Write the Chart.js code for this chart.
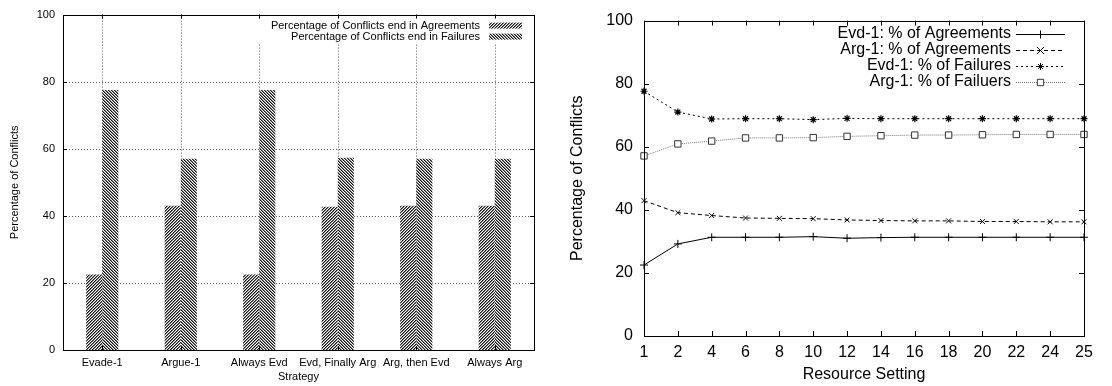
<!DOCTYPE html>
<html>
<head>
<meta charset="utf-8">
<script src="https://cdn.jsdelivr.net/npm/chart.js@4.4.1/dist/chart.umd.min.js"></script>
<style>
  html, body { margin: 0; padding: 0; background: #fff; }
  #wrap { position: relative; width: 1112px; height: 386px; overflow: hidden; }
  #left { position: absolute; left: 0; top: 0; }
  #right { position: absolute; left: 560px; top: 0; }
</style>
</head>
<body>
<div id="wrap">
  <canvas id="left" width="560" height="386"></canvas>
  <canvas id="right" width="552" height="386"></canvas>
</div>
<script>
// ---- data: outcome per strategy ----
const strategies = ['Evade-1', 'Argue-1', 'Always Evd', 'Evd, Finally Arg', 'Arg, then Evd', 'Always Arg'];
const agreementPct = [22.5, 43.0, 22.5, 42.7, 43.0, 43.0];
const failurePct   = [77.5, 57.0, 77.5, 57.3, 57.0, 57.0];

// ---- data: outcome per resource setting ----
const resourceSettings = ['1', '2', '4', '6', '8', '10', '12', '14', '16', '18', '20', '22', '24', '25'];
const evdAgreements = [22.5, 29.2, 31.3, 31.3, 31.3, 31.5, 31.0, 31.2, 31.3, 31.3, 31.3, 31.3, 31.3, 31.3];
const argAgreements = [42.9, 39.1, 38.2, 37.4, 37.3, 37.2, 36.8, 36.6, 36.5, 36.5, 36.3, 36.3, 36.2, 36.2];
const evdFailures   = [77.6, 71.0, 68.8, 68.9, 68.9, 68.6, 69.0, 68.9, 68.9, 68.9, 68.9, 68.9, 68.9, 68.9];
const argFailures   = [57.1, 60.9, 61.8, 62.8, 62.8, 62.9, 63.3, 63.5, 63.7, 63.7, 63.8, 63.9, 63.9, 63.9];

const percentTicks = [0, 20, 40, 60, 80, 100];

const FONT = '"Liberation Sans", Arial, Helvetica, sans-serif';
Chart.defaults.font.family = FONT;
Chart.defaults.color = '#000';

// diagonal hatch fill, dir = 1 for "/" and -1 for "\"
function hatch(dir) {
  const n = 3;
  const c = document.createElement('canvas');
  c.width = n; c.height = n;
  const g = c.getContext('2d');
  const img = g.createImageData(n, n);
  for (let yy = 0; yy < n; yy++) {
    for (let xx = 0; xx < n; xx++) {
      const k = dir > 0 ? (xx + yy) % n : ((xx - yy) % n + n) % n;
      const v = k === 0 ? 20 : (k === 1 ? 130 : 255);
      const i = (yy * n + xx) * 4;
      img.data[i] = img.data[i + 1] = img.data[i + 2] = v;
      img.data[i + 3] = 255;
    }
  }
  g.putImageData(img, 0, 0);
  return g.createPattern(c, 'repeat');
}
const hatchAgree = hatch(1);
const hatchFail = hatch(-1);

// simple marker drawing for key samples
function marker(ctx, style, r, x, y, fill) {
  ctx.beginPath();
  if (style === 'cross') {
    ctx.moveTo(x - r, y); ctx.lineTo(x + r, y);
    ctx.moveTo(x, y - r); ctx.lineTo(x, y + r);
  } else if (style === 'crossRot') {
    ctx.moveTo(x - r, y - r); ctx.lineTo(x + r, y + r);
    ctx.moveTo(x - r, y + r); ctx.lineTo(x + r, y - r);
  } else if (style === 'star') {
    ctx.moveTo(x - r, y); ctx.lineTo(x + r, y);
    ctx.moveTo(x, y - r); ctx.lineTo(x, y + r);
    const d = r * 0.7071;
    ctx.moveTo(x - d, y - d); ctx.lineTo(x + d, y + d);
    ctx.moveTo(x - d, y + d); ctx.lineTo(x + d, y - d);
  } else if (style === 'rect') {
    const d = r * 0.7071;
    ctx.rect(x - d, y - d, 2 * d, 2 * d);
    ctx.fillStyle = fill || '#fff';
    ctx.fill();
  }
  ctx.stroke();
}

// dotted grid, frame, inward tick marks on all four sides, and the in-plot key
const framePlugin = {
  id: 'framePlugin',
  beforeDatasetsDraw(chart, args, opts) {
    if (!opts.grid) return;
    const { ctx, chartArea: a, scales: { x, y } } = chart;
    ctx.save();
    ctx.strokeStyle = '#555';
    ctx.lineWidth = 1;
    ctx.setLineDash([1, 2]);
    ctx.beginPath();
    x.ticks.forEach((t, i) => {
      const px = Math.round(x.getPixelForTick(i)) + 0.5;
      ctx.moveTo(px, a.top); ctx.lineTo(px, a.bottom);
    });
    y.ticks.forEach((t, i) => {
      if (t.value === y.min || t.value === y.max) return;
      const py = Math.round(y.getPixelForTick(i)) + 0.5;
      ctx.moveTo(a.left, py); ctx.lineTo(a.right, py);
    });
    ctx.stroke();
    ctx.restore();
  },
  afterDatasetsDraw(chart, args, opts) {
    const { ctx, chartArea: a } = chart;
    if (opts.mask) {
      ctx.save();
      ctx.fillStyle = '#fff';
      ctx.fillRect(a.left + opts.mask.x, a.top, a.right - a.left - opts.mask.x, opts.mask.h);
      ctx.restore();
    }
  },
  afterDraw(chart, args, opts) {
    const { ctx, chartArea: a, scales: { x, y } } = chart;
    const len = opts.tickLen || 5;
    ctx.save();
    ctx.strokeStyle = '#000';
    ctx.lineWidth = 1;
    ctx.setLineDash([]);
    ctx.beginPath();
    x.ticks.forEach((t, i) => {
      const px = Math.round(x.getPixelForTick(i)) + 0.5;
      ctx.moveTo(px, a.bottom); ctx.lineTo(px, a.bottom - len);
      ctx.moveTo(px, a.top); ctx.lineTo(px, a.top + len);
    });
    y.ticks.forEach((t, i) => {
      const py = Math.round(y.getPixelForTick(i)) + 0.5;
      ctx.moveTo(a.left, py); ctx.lineTo(a.left + len, py);
      ctx.moveTo(a.right, py); ctx.lineTo(a.right - len, py);
    });
    ctx.stroke();
    ctx.strokeRect(Math.round(a.left) + 0.5, Math.round(a.top) + 0.5,
      Math.round(a.right - a.left), Math.round(a.bottom - a.top));

    // key
    const k = opts.key;
    if (k) {
      ctx.font = k.font + 'px ' + FONT;
      ctx.textAlign = 'right';
      ctx.textBaseline = 'middle';
      chart.data.datasets.forEach((ds, i) => {
        const yy = a.top + k.top + i * k.step;
        ctx.fillStyle = '#000';
        ctx.fillText(ds.label, a.right - k.textRight, yy);
        const x0 = a.right - k.sampleLeft, x1 = a.right - k.sampleRight;
        if (chart.config.type === 'bar') {
          ctx.fillStyle = ds.backgroundColor;
          ctx.fillRect(x0, yy - 3, x1 - x0, 6);
        } else {
          ctx.strokeStyle = ds.borderColor;
          ctx.lineWidth = 1;
          ctx.setLineDash(ds.borderDash || []);
          ctx.beginPath();
          ctx.moveTo(x0, Math.round(yy) + 0.5); ctx.lineTo(x1, Math.round(yy) + 0.5);
          ctx.stroke();
          ctx.setLineDash([]);
          ctx.strokeStyle = ds.pointBorderColor || ds.borderColor;
          marker(ctx, ds.pointStyle, ds.pointRadius, (x0 + x1) / 2, Math.round(yy) + 0.5, '#fff');
        }
      });
    }
    ctx.restore();
  }
};

// ---- left: grouped hatched bars ----
new Chart(document.getElementById('left'), {
  type: 'bar',
  data: {
    labels: strategies,
    datasets: [
      { label: 'Percentage of Conflicts end in Agreements', data: agreementPct,
        backgroundColor: hatchAgree, borderWidth: 0, barPercentage: 1, categoryPercentage: 0.41 },
      { label: 'Percentage of Conflicts end in Failures', data: failurePct,
        backgroundColor: hatchFail, borderWidth: 0, barPercentage: 1, categoryPercentage: 0.41 }
    ]
  },
  options: {
    responsive: false,
    animation: false,
    layout: { padding: { left: 0, top: 13, right: 26, bottom: 0 } },
    plugins: {
      legend: { display: false },
      tooltip: { enabled: false },
      framePlugin: {
        grid: true,
        tickLen: 4,
        mask: { x: 193, h: 29 },
        key: { font: 11, top: 11, step: 11, textRight: 54, sampleLeft: 45, sampleRight: 12 }
      }
    },
    scales: {
      x: {
        offset: true,
        grid: { display: false, drawTicks: false },
        border: { display: false },
        ticks: { font: { size: 11 }, padding: 6, maxRotation: 0, autoSkip: false },
        title: { display: true, text: 'Strategy', font: { size: 11 }, padding: { top: 0, bottom: 2 } },
        afterFit: (s) => { s.height = 36; }
      },
      y: {
        min: 0, max: 100,
        afterBuildTicks: (s) => { s.ticks = percentTicks.map(v => ({ value: v })); },
        grid: { display: false, drawTicks: false },
        border: { display: false },
        ticks: { font: { size: 11 }, padding: 8 },
        title: { display: true, text: 'Percentage of Conflicts', font: { size: 11 }, padding: { top: 8, bottom: 0 } },
        afterFit: (s) => { s.width = 63; }
      }
    }
  },
  plugins: [framePlugin]
});

// ---- right: lines over resource settings ----
new Chart(document.getElementById('right'), {
  type: 'line',
  data: {
    labels: resourceSettings,
    datasets: [
      { label: 'Evd-1: % of Agreements', data: evdAgreements, borderColor: '#000', borderWidth: 1,
        borderDash: [], pointStyle: 'cross', pointRadius: 4, pointBorderWidth: 1, pointBorderColor: '#000', clip: false },
      { label: 'Arg-1: % of Agreements', data: argAgreements, borderColor: '#000', borderWidth: 1,
        borderDash: [4, 3], pointStyle: 'crossRot', pointRadius: 3.5, pointBorderWidth: 1, pointBorderColor: '#000', clip: false },
      { label: 'Evd-1: % of Failures', data: evdFailures, borderColor: '#000', borderWidth: 1,
        borderDash: [2, 3], pointStyle: 'star', pointRadius: 3.5, pointBorderWidth: 1.2, pointBorderColor: '#000', clip: false },
      { label: 'Arg-1: % of Failuers', data: argFailures, borderColor: '#777', borderWidth: 1,
        borderDash: [1, 1], pointStyle: 'rect', pointRadius: 4.5, pointBorderWidth: 1, pointBorderColor: '#333',
        pointBackgroundColor: '#fff', clip: false }
    ]
  },
  options: {
    responsive: false,
    animation: false,
    layout: { padding: { left: 0, top: 19, right: 28, bottom: 0 } },
    elements: { line: { tension: 0 } },
    plugins: {
      legend: { display: false },
      tooltip: { enabled: false },
      framePlugin: {
        tickLen: 5,
        key: { font: 16, top: 13, step: 16, textRight: 73, sampleLeft: 68, sampleRight: 19 }
      }
    },
    scales: {
      x: {
        offset: false,
        grid: { display: false, drawTicks: false },
        border: { display: false },
        ticks: { font: { size: 16 }, padding: 7, maxRotation: 0, autoSkip: false },
        title: { display: true, text: 'Resource Setting', font: { size: 16 }, padding: { top: 0, bottom: 2 } },
        afterFit: (s) => { s.height = 50; }
      },
      y: {
        min: 0, max: 100,
        afterBuildTicks: (s) => { s.ticks = percentTicks.map(v => ({ value: v })); },
        grid: { display: false, drawTicks: false },
        border: { display: false },
        ticks: { font: { size: 16 }, padding: 11 },
        title: { display: true, text: 'Percentage of Conflicts', font: { size: 16 }, padding: { top: 8, bottom: 0 } },
        afterFit: (s) => { s.width = 84; }
      }
    }
  },
  plugins: [framePlugin]
});
</script>
</body>
</html>
